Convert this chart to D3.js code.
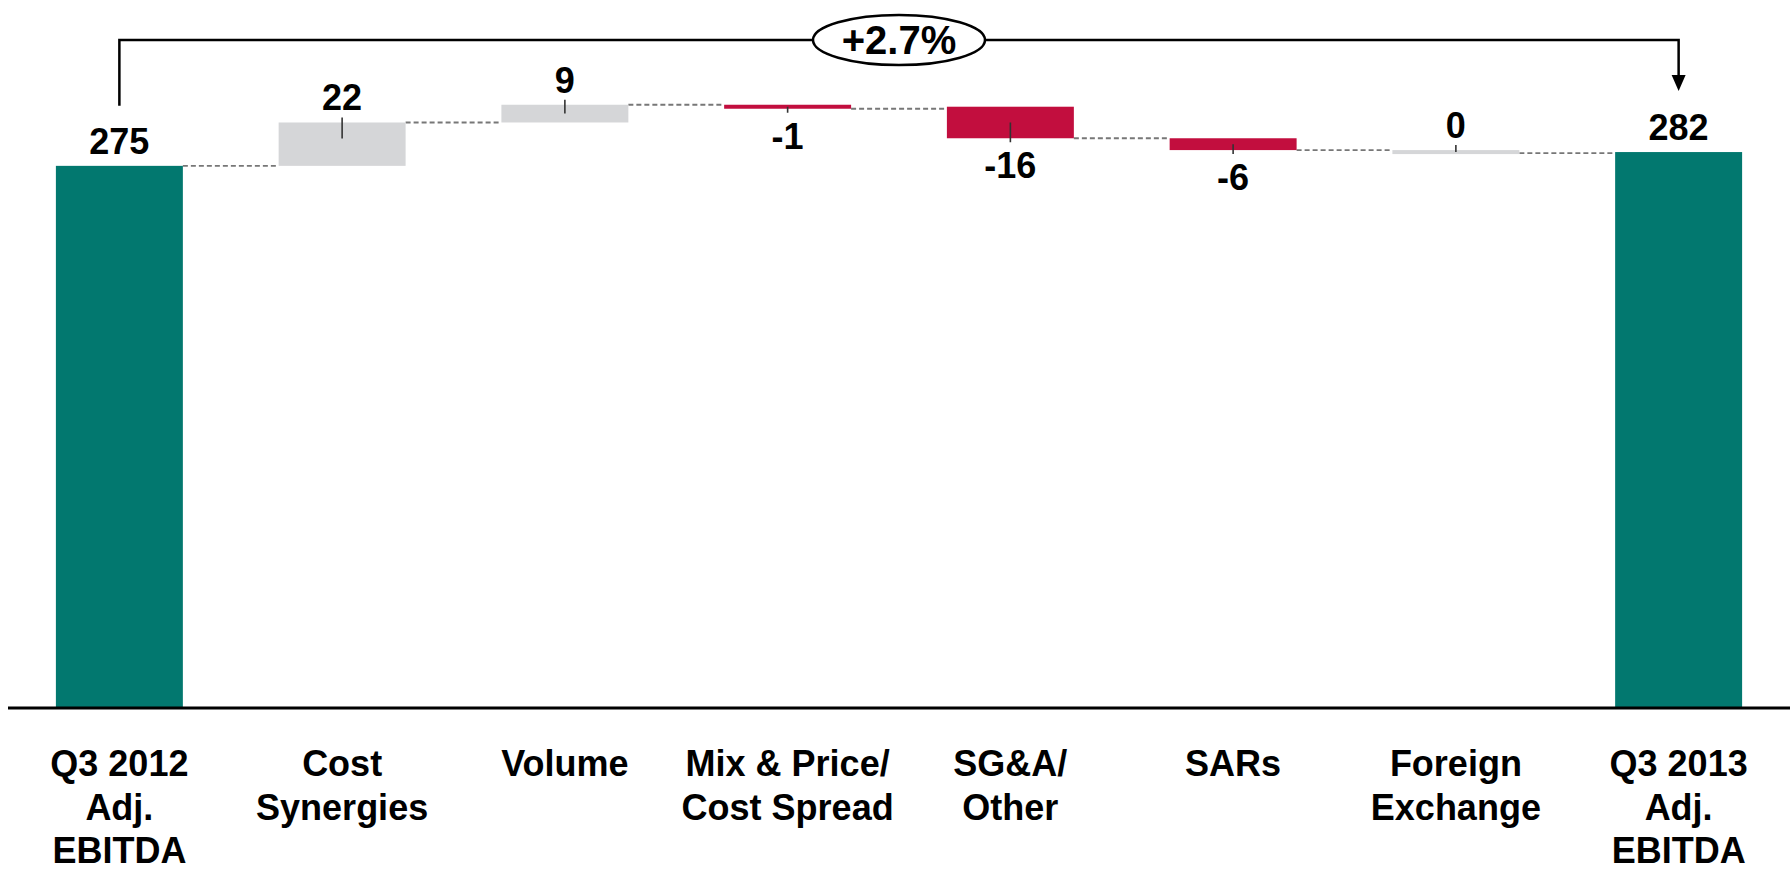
<!DOCTYPE html>
<html>
<head>
<meta charset="utf-8">
<script src="https://cdn.jsdelivr.net/npm/d3@7"></script>
<style>
  html, body { margin: 0; padding: 0; background: #fff; }
  svg { display: block; font-family: "Liberation Sans", Arial, sans-serif; font-weight: bold; }
</style>
</head>
<body>
<svg id="chart" width="1790" height="870"></svg>
<script>
// Bridge from Q3 2012 to Q3 2013 Adjusted EBITDA
const categories = [
  ["Q3 2012", "Adj.", "EBITDA"],
  ["Cost", "Synergies"],
  ["Volume"],
  ["Mix & Price/", "Cost Spread"],
  ["SG&A/", "Other"],
  ["SARs"],
  ["Foreign", "Exchange"],
  ["Q3 2013", "Adj.", "EBITDA"]
];
const kinds  = ["total", "delta", "delta", "delta", "delta", "delta", "delta", "total"];
const values = [275, 22, 9, -1, -16, -6, 0, 282];
const changeLabel = "+2.7%";

const colors = { total: "#02786F", up: "#D5D6D8", down: "#C20E3E", zero: "#D5D6D8" };

const svg = d3.select("#chart");
const W = 1790;
const baseY = 708;

const x = d3.scaleBand()
  .domain(d3.range(categories.length))
  .range([8, W])
  .paddingInner(0.43)
  .paddingOuter(0.215);

const y = d3.scaleLinear().domain([0, 350]).range([baseY, 18]);

// running totals
let run = 0;
const steps = values.map((v, i) => {
  let start, end;
  if (kinds[i] === "total") { start = 0; end = v; run = v; }
  else { start = run; end = run + v; run = end; }
  return { i, v, kind: kinds[i], start, end };
});

const minH = 4;
steps.forEach(s => {
  let y0 = y(Math.max(s.start, s.end)), y1 = y(Math.min(s.start, s.end));
  if (y1 - y0 < minH) {
    if (s.v > 0) y0 = y1 - minH; else y1 = y0 + minH;
  }
  s.top = y0; s.bottom = y1;
  s.color = s.kind === "total" ? colors.total : s.v > 0 ? colors.up : s.v < 0 ? colors.down : colors.zero;
});

// dashed connectors at each running total
const conn = svg.append("g");
steps.slice(0, -1).forEach((s, k) => {
  const n = steps[k + 1];
  const yy = s.v < 0 ? s.bottom : (s.v === 0 ? s.bottom - 1 : s.top);
  conn.append("line")
    .attr("x1", x(s.i) + x.bandwidth()).attr("x2", x(n.i))
    .attr("y1", yy).attr("y2", yy)
    .attr("stroke", "#777").attr("stroke-width", 1.8)
    .attr("stroke-dasharray", "5,3");
});

// bars
svg.append("g").selectAll("rect").data(steps).join("rect")
  .attr("x", d => x(d.i))
  .attr("width", x.bandwidth())
  .attr("y", d => d.top)
  .attr("height", d => Math.min(baseY, d.bottom) - d.top)
  .attr("fill", d => d.color);

// leader ticks on delta bars
steps.filter(d => d.kind === "delta").forEach(d => {
  const cx = x(d.i) + x.bandwidth() / 2;
  const h = d.bottom - d.top;
  const inner = Math.min(16, h / 2);
  let y1, y2;
  if (d.v >= 0) { y1 = d.top - 5; y2 = d.top + Math.max(inner, 1); }
  else { y1 = d.bottom + 4; y2 = d.bottom - inner; }
  svg.append("line").attr("x1", cx).attr("x2", cx).attr("y1", y1).attr("y2", y2)
    .attr("stroke", "#333").attr("stroke-width", 1.6);
});

// value labels
svg.append("g").selectAll("text").data(steps).join("text")
  .attr("x", d => x(d.i) + x.bandwidth() / 2)
  .attr("y", d => d.v < 0 ? d.bottom + 40 : d.top - 12)
  .attr("text-anchor", "middle")
  .attr("font-size", 36)
  .attr("fill", "#000")
  .text(d => String(d.v));

// baseline
svg.append("line").attr("x1", 8).attr("x2", W).attr("y1", baseY).attr("y2", baseY)
  .attr("stroke", "#000").attr("stroke-width", 3);

// category labels
const catG = svg.append("g");
categories.forEach((lines, i) => {
  const t = catG.append("text")
    .attr("x", x(i) + x.bandwidth() / 2)
    .attr("y", 776)
    .attr("text-anchor", "middle")
    .attr("font-size", 36)
    .attr("fill", "#000");
  lines.forEach((ln, j) => {
    t.append("tspan").attr("x", x(i) + x.bandwidth() / 2).attr("dy", j === 0 ? 0 : 43.5).text(ln);
  });
});

// growth bracket
const first = steps[0], last = steps[steps.length - 1];
const bx0 = x(first.i) + x.bandwidth() / 2;
const bx1 = x(last.i) + x.bandwidth() / 2;
const by = 40;
svg.append("path")
  .attr("d", `M${bx0},${first.top - 60} V${by} H${bx1} V${last.top - 76}`)
  .attr("fill", "none").attr("stroke", "#000").attr("stroke-width", 2.5);
svg.append("path")
  .attr("d", `M${bx1 - 7},${last.top - 77} L${bx1 + 7},${last.top - 77} L${bx1},${last.top - 61} Z`)
  .attr("fill", "#000");
const mx = (bx0 + bx1) / 2;
svg.append("ellipse").attr("cx", mx).attr("cy", by).attr("rx", 86).attr("ry", 25)
  .attr("fill", "#fff").attr("stroke", "#000").attr("stroke-width", 2.5);
svg.append("text").attr("x", mx).attr("y", by + 14).attr("text-anchor", "middle")
  .attr("font-size", 40).attr("fill", "#000").text(changeLabel);
</script>
</body>
</html>
